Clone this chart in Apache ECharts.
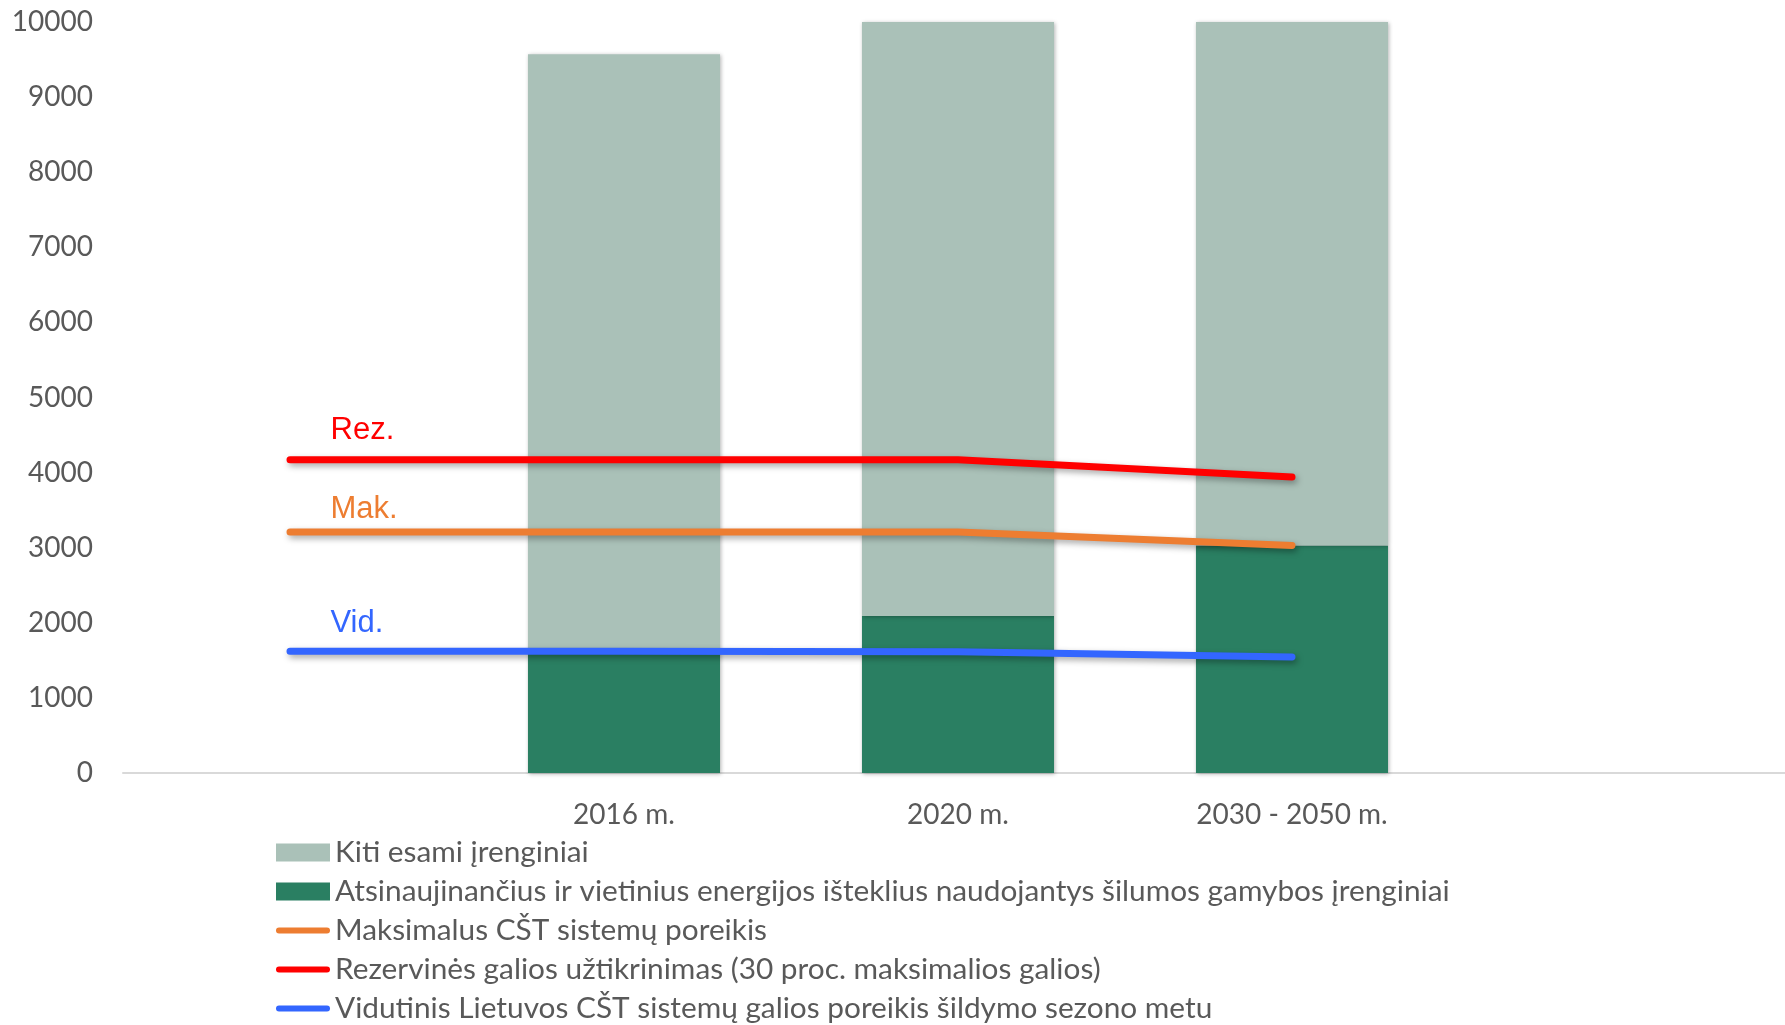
<!DOCTYPE html>
<html>
<head>
<meta charset="utf-8">
<script src="https://cdn.jsdelivr.net/npm/echarts@6/dist/echarts.min.js"></script>
<style>
html,body{margin:0;padding:0;background:#fff;}
#c{width:1785px;height:1025px;}
</style>
</head>
<body>
<div id="c"></div>
<script>
const categories = ['', '2016 m.', '2020 m.', '2030 - 2050 m.', ''];
const renewable = [null, 1620, 2090, 3030, null];
const otherExisting = [null, 7950, 7910, 6970, null];
const maxDemand = [3210, 3210, 3210, 3030, null];
const reserve = [4170, 4170, 4170, 3940, null];
const avgDemand = [1620, 1620, 1615, 1545, null];
const yTicks = {min: 0, max: 10000, interval: 1000};

const names = {
  other: 'Kiti esami įrenginiai',
  renew: 'Atsinaujinančius ir vietinius energijos išteklius naudojantys šilumos gamybos įrenginiai',
  max: 'Maksimalus CŠT sistemų poreikis',
  res: 'Rezervinės galios užtikrinimas (30 proc. maksimalios galios)',
  avg: 'Vidutinis Lietuvos CŠT sistemų galios poreikis šildymo sezono metu'
};

const txt = '#595959';
const font = 'Lato, "Open Sans", sans-serif';
const lineShadow = {shadowBlur: 6, shadowColor: 'rgba(0,0,0,0.35)', shadowOffsetX: 2, shadowOffsetY: 3};
const lineIcon = 'path://M3,0 L51,0 A3,3 0 0 1 51,6 L3,6 A3,3 0 0 1 3,0 Z';

function lineSeries(name, data, color, short, dy) {
  return {
    name: name, type: 'line', data: data, symbol: 'none', z: 5,
    lineStyle: Object.assign({color: color, width: 7, cap: 'round'}, lineShadow),
    itemStyle: {color: color},
    markPoint: {
      symbol: 'circle', symbolSize: 1, silent: true,
      itemStyle: {color: 'rgba(0,0,0,0)'},
      data: [{coord: [0, data[0]]}],
      label: {
        show: true, formatter: short, position: 'right', distance: 0,
        offset: [40, dy], color: color,
        fontFamily: '"Liberation Sans", Arial, sans-serif', fontSize: 31
      }
    }
  };
}

const chart = echarts.init(document.getElementById('c'));
chart.setOption({
  animation: false,
  textStyle: {fontFamily: font},
  grid: {left: 123, width: 1670, top: 22, bottom: 252, containLabel: false, outerBoundsMode: 'none'},
  xAxis: {
    type: 'category', data: categories,
    axisLine: {lineStyle: {color: '#D9D9D9', width: 2}},
    axisTick: {show: false},
    axisLabel: {color: txt, fontSize: 28, margin: 28, fontFamily: font, interval: 0}
  },
  yAxis: {
    type: 'value', min: yTicks.min, max: yTicks.max, interval: yTicks.interval,
    axisLine: {show: false}, axisTick: {show: false}, splitLine: {show: false},
    axisLabel: {color: txt, fontSize: 28, margin: 30, fontFamily: font, formatter: function (v) { return String(v); }}
  },
  legend: {
    orient: 'vertical', left: 276, top: 837.5, padding: 0, height: 220,
    itemWidth: 54, itemHeight: 18, itemGap: 9, symbolKeepAspect: true,
    textStyle: {color: txt, fontSize: 29.8, fontFamily: font, lineHeight: 30},
    data: [
      {name: names.other, icon: 'rect'},
      {name: names.renew, icon: 'rect'},
      {name: names.max, icon: lineIcon},
      {name: names.res, icon: lineIcon},
      {name: names.avg, icon: lineIcon}
    ]
  },
  series: [
    {
      name: names.renew, type: 'bar', stack: 'cap', data: renewable,
      barCategoryGap: '42.5%',
      itemStyle: {color: '#2A7F62', shadowBlur: 4, shadowColor: 'rgba(0,0,0,0.3)', shadowOffsetX: 1, shadowOffsetY: 1}
    },
    {
      name: names.other, type: 'bar', stack: 'cap', data: otherExisting,
      itemStyle: {color: '#AAC1B8', shadowBlur: 4, shadowColor: 'rgba(0,0,0,0.3)', shadowOffsetX: 1, shadowOffsetY: 1}
    },
    lineSeries(names.max, maxDemand, '#ED7D31', 'Mak.', -22),
    lineSeries(names.res, reserve, '#FF0000', 'Rez.', -29.5),
    lineSeries(names.avg, avgDemand, '#3366FF', 'Vid.', -27.5)
  ]
});
</script>
</body>
</html>
